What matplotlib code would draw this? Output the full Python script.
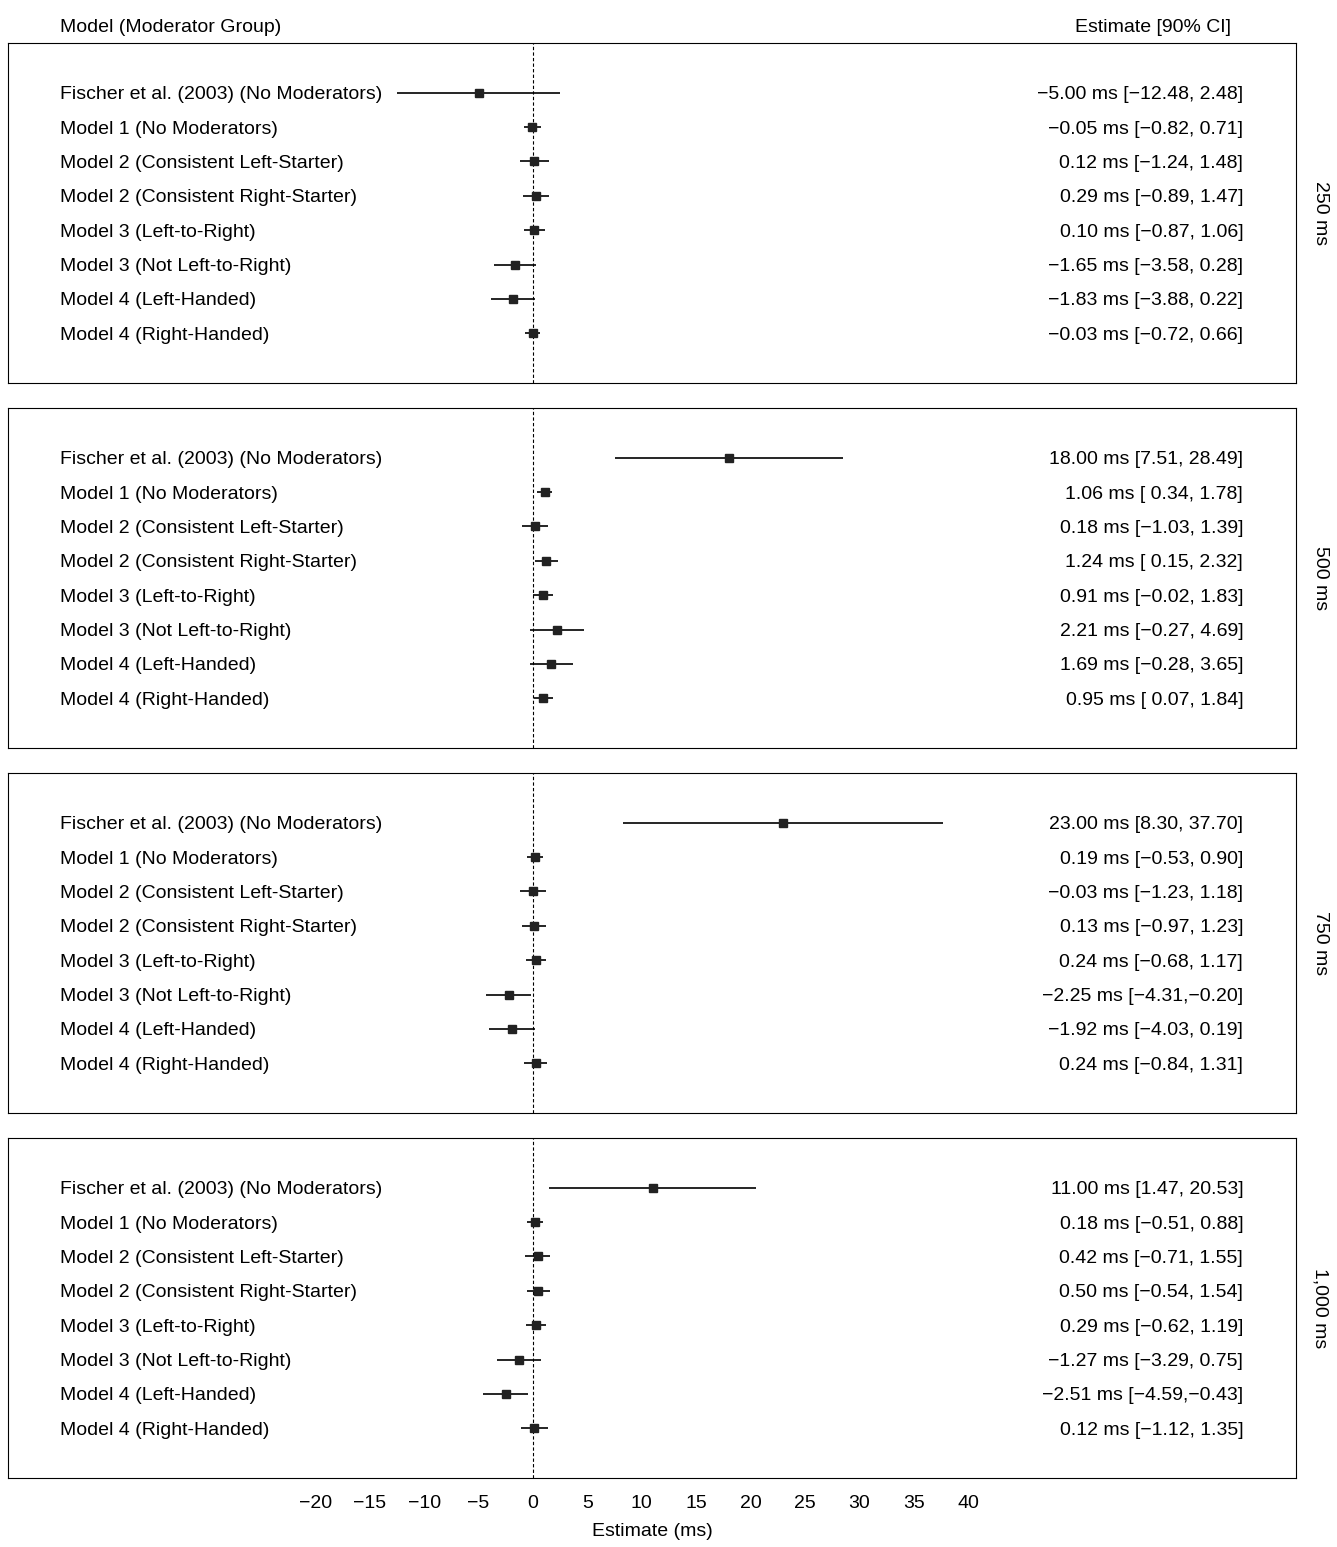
import numpy as np
import matplotlib.pyplot as plt

plt.rcParams['font.family'] = ['Liberation Sans Narrow', 'Liberation Sans', 'DejaVu Sans']
plt.rcParams['axes.unicode_minus'] = True

rows = ["Fischer et al. (2003) (No Moderators)", "Model 1 (No Moderators)",
        "Model 2 (Consistent Left-Starter)", "Model 2 (Consistent Right-Starter)",
        "Model 3 (Left-to-Right)", "Model 3 (Not Left-to-Right)",
        "Model 4 (Left-Handed)", "Model 4 (Right-Handed)"]
panels = ["250 ms", "500 ms", "750 ms", "1,000 ms"]

est = [[-5.00, -0.05, 0.12, 0.29, 0.10, -1.65, -1.83, -0.03],
       [18.00, 1.06, 0.18, 1.24, 0.91, 2.21, 1.69, 0.95],
       [23.00, 0.19, -0.03, 0.13, 0.24, -2.25, -1.92, 0.24],
       [11.00, 0.18, 0.42, 0.50, 0.29, -1.27, -2.51, 0.12]]
lo = [[-12.48, -0.82, -1.24, -0.89, -0.87, -3.58, -3.88, -0.72],
      [7.51, 0.34, -1.03, 0.15, -0.02, -0.27, -0.28, 0.07],
      [8.30, -0.53, -1.23, -0.97, -0.68, -4.31, -4.03, -0.84],
      [1.47, -0.51, -0.71, -0.54, -0.62, -3.29, -4.59, -1.12]]
hi = [[2.48, 0.71, 1.48, 1.47, 1.06, 0.28, 0.22, 0.66],
      [28.49, 1.78, 1.39, 2.32, 1.83, 4.69, 3.65, 1.84],
      [37.70, 0.90, 1.18, 1.23, 1.17, -0.20, 0.19, 1.31],
      [20.53, 0.88, 1.55, 1.54, 1.19, 0.75, -0.43, 1.35]]


def fmt(v):
    return f"{v:.2f}".replace("-", "\u2212")


W, H = 1337, 1547
fig = plt.figure(figsize=(W / 100, H / 100), dpi=100)
tops = [43, 408, 773, 1138]
xl = ((8 - 533) / 10.875, (1296 - 533) / 10.875)
fs = 14

for p, top in enumerate(tops):
    ax = fig.add_axes([8 / W, 1 - (top + 340) / H, 1288 / W, 340 / H])
    ax.set_xlim(*xl)
    ax.set_ylim(8.45, -1.45)
    ax.axvline(0, color='black', lw=0.8, ls=(0, (3, 2)))
    y = np.arange(len(rows))
    e = np.array(est[p]); l = np.array(lo[p]); h = np.array(hi[p])
    ax.hlines(y, l, h, color='black', lw=1.2)
    ax.plot(e, y, 's', color='#222222', ms=6)
    for i in range(len(rows)):
        ax.text(-43.5, i, rows[i], fontsize=fs, va='center_baseline', ha='left')
        lo_s = fmt(l[i])
        sep = "," if h[i] < 0 and l[i] < 0 else ", "
        if l[i] >= 0 and i > 0:
            lo_s = " " + lo_s
        txt = f"{fmt(e[i])} ms [{lo_s}{sep}{fmt(h[i])}]"
        ax.text(65.3, i, txt, fontsize=fs, va='center_baseline', ha='right')
    ax.text(1.019, 0.5, panels[p], transform=ax.transAxes, rotation=270,
            fontsize=fs, va='center', ha='center')
    ax.set_yticks([])
    if p < 3:
        ax.set_xticks([])
    else:
        ax.set_xticks(np.arange(-20, 41, 5))
        ax.set_xticklabels([str(t).replace("-", "\u2212") for t in range(-20, 41, 5)])
        ax.tick_params(axis='x', length=0, labelsize=fs, pad=12)
        ax.set_xlabel("Estimate (ms)", fontsize=fs, labelpad=8)

fig.text(60 / W, 1 - 28 / H, "Model (Moderator Group)", fontsize=fs, va='center', ha='left')
fig.text(1231 / W, 1 - 28 / H, "Estimate [90% CI]", fontsize=fs, va='center', ha='right')

fig.savefig("out.png", dpi=100)
